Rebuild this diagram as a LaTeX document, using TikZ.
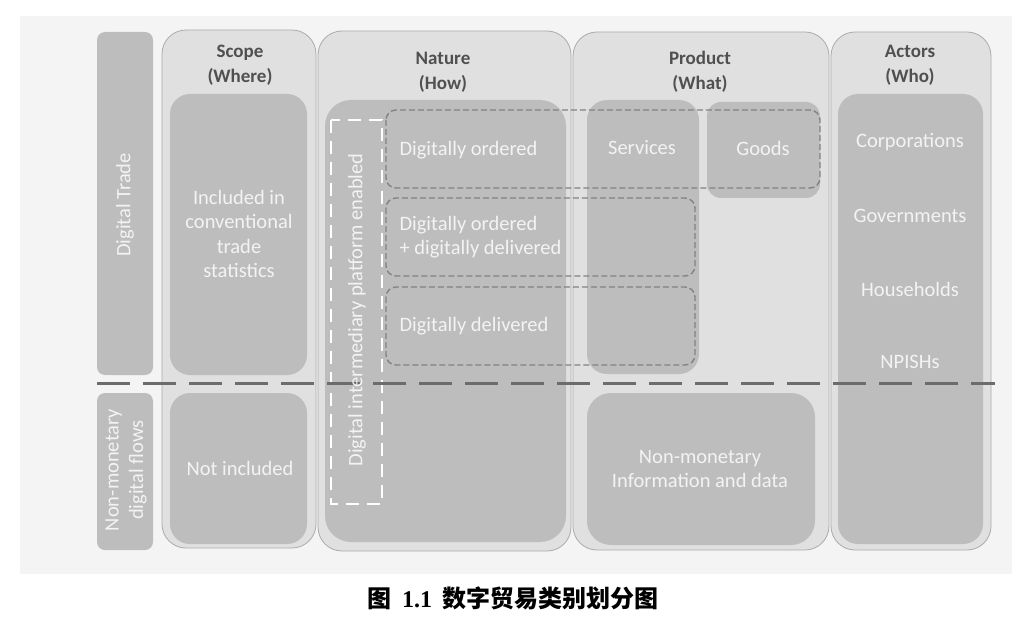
\documentclass[tikz,border=0pt]{standalone}
\usepackage{fontspec}
\setmainfont{Carlito}
\newfontfamily\cjkfont{Noto Sans CJK SC}
\newfontfamily\capnum{Liberation Serif}
\usetikzlibrary{positioning}
\definecolor{PageGray}{HTML}{F4F4F4}
\definecolor{ColumnGray}{HTML}{E0E0E0}
\definecolor{ColumnEdge}{HTML}{ABABAB}
\definecolor{BoxGray}{HTML}{BDBDBD}
\definecolor{HeadGray}{HTML}{505050}
\definecolor{DashGray}{HTML}{6C6C6C}
\definecolor{TextWhite}{HTML}{F3F3F3}

\begin{document}
\begin{tikzpicture}[x=1pt, y=-1pt,
    column/.style={draw=ColumnEdge, fill=ColumnGray, line width=0.8, rounded corners=24},
    sidebar/.style={fill=BoxGray, rounded corners=8},
    innerbox/.style={fill=BoxGray, rounded corners=20},
    dashbox/.style={draw=DashGray!85, line width=1.4, dash pattern=on 6 off 3, rounded corners=10},
    headtext/.style={font=\bfseries\fontsize{19}{25}\selectfont, text=HeadGray, align=center},
    boxtext/.style={font=\fontsize{20.5}{24.5}\selectfont, text=TextWhite, align=center},
    lefttext/.style={boxtext, align=left, anchor=west}]
  \useasboundingbox (0,0) rectangle (1022,631);
  \fill[PageGray] (20,16) rectangle (1012,574);

  % row labels on the left
  \fill[sidebar] (97,32) rectangle (153,375);
  \fill[sidebar] (97,393) rectangle (153,550);

  % the four columns
  \draw[column] (162,30) rectangle (316,548);
  \draw[column] (318,31) rectangle (571,551);
  \draw[column] (573,32) rectangle (829,550);
  \draw[column] (831,32) rectangle (991,550);

  % boxes inside the columns
  \fill[innerbox] (170,94) rectangle (307,375);
  \fill[innerbox] (170,393) rectangle (307,544);
  \fill[innerbox, rounded corners=26] (325,100) rectangle (566,542);
  \fill[innerbox] (587,100) rectangle (699,374);
  \fill[innerbox, rounded corners=14] (707,102) rectangle (820,198);
  \fill[innerbox, rounded corners=24] (587,393) rectangle (815,545);
  \fill[innerbox] (838,94) rectangle (983,544);

  % dashed groupings
  \draw[white, line width=2.6, dash pattern=on 13 off 8] (331,120) rectangle (382,504);
  \draw[dashbox] (386,110) rectangle (820,188);
  \draw[dashbox] (386,198) rectangle (695,276);
  \draw[dashbox] (386,287) rectangle (695,365);
  \draw[DashGray, line width=3, dash pattern=on 33 off 13] (97,383) -- (995,383);

  % headings
  \node[headtext] (scopehead) at (240,65) {Scope\\(Where)};
  \node[headtext] (naturehead) at (443,72) {Nature\\(How)};
  \node[headtext] (producthead) at (700,72) {Product\\(What)};
  \node[headtext] (actorshead) at (910,65) {Actors\\(Who)};

  % texts in the boxes
  \node[boxtext, rotate=90] (digitaltrade) at (125,205) {Digital Trade};
  \node[boxtext, rotate=90] (nonmonflows) at (126,470) {Non-monetary\\digital flows};
  \node[boxtext] (included) at (239,234) {Included in\\conventional\\trade\\statistics};
  \node[boxtext] (notincluded) at (240,468) {Not included};
  \node[boxtext, rotate=90] (platform) at (357,310) {Digital intermediary platform enabled};
  \node[lefttext] (ordered) at (396,150) {Digitally ordered};
  \node[lefttext] (orddeliv) at (396,237) {Digitally ordered\\+ digitally delivered};
  \node[lefttext] (delivered) at (396,326) {Digitally delivered};
  \node[boxtext] (services) at (642,148) {Services};
  \node[boxtext] (goods) at (763,148) {Goods};
  \node[boxtext] (nonmondata) at (700,469) {Non-monetary\\Information and data};
  \node[boxtext] (corporations) at (910,142) {Corporations};
  \node[boxtext] (governments) at (910,216) {Governments};
  \node[boxtext] (households) at (910,289) {Households};
  \node[boxtext] (npishs) at (910,362) {NPISHs};

  % caption
  \node[font=\fontsize{24}{28}\selectfont] (caption) at (513,598)
    {\cjkfont\bfseries 图\ \ {\capnum\bfseries 1.1}\ \ 数字贸易类别划分图};
\end{tikzpicture}
\end{document}
